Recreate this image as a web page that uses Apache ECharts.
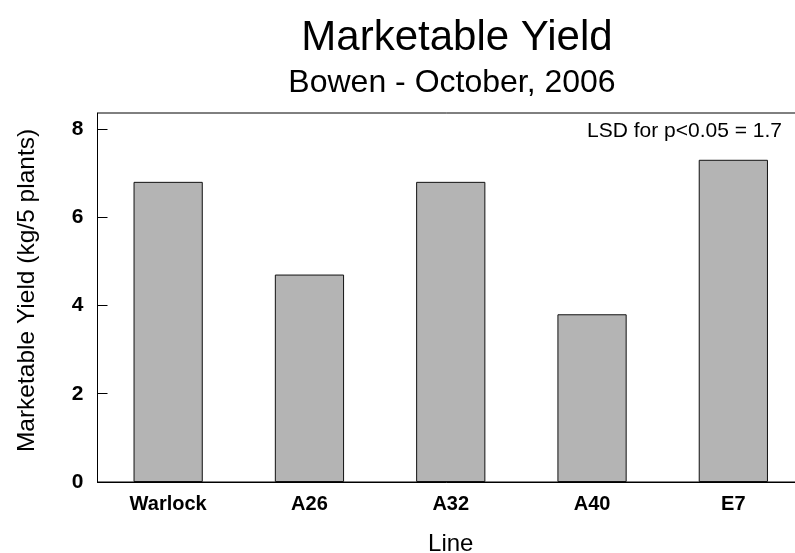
<!DOCTYPE html>
<html>
<head>
<meta charset="utf-8">
<script src="https://cdn.jsdelivr.net/npm/echarts@6/dist/echarts.min.js"></script>
<style>
  html, body { margin: 0; padding: 0; background: #fff; }
  #chart { width: 795px; height: 553px; }
</style>
</head>
<body>
<div id="chart"></div>
<script>
// Marketable yield per breeding line, Bowen trial, October 2006
const lines = ['Warlock', 'A26', 'A32', 'A40', 'E7'];
const yieldKg = [6.8, 4.7, 6.8, 3.8, 7.3];
const yTicks = [0, 2, 4, 6, 8];
const lsdNote = 'LSD for p<0.05 = 1.7';

const FONT = '"Liberation Sans", Arial, Helvetica, sans-serif';

const chart = echarts.init(document.getElementById('chart'), null, { renderer: 'canvas' });

chart.setOption({
  animation: false,
  backgroundColor: '#fff',
  title: [
    {
      text: 'Marketable Yield',
      left: 452, top: 12, textAlign: 'center',
      textStyle: { fontFamily: FONT, fontSize: 42, fontWeight: 'normal', color: '#000' }
    },
    {
      text: 'Bowen - October, 2006',
      left: 447, top: 62, textAlign: 'center',
      textStyle: { fontFamily: FONT, fontSize: 32, fontWeight: 'normal', color: '#000' }
    }
  ],
  grid: {
    left: 97.5, right: -9, top: 113, bottom: 71,
    outerBoundsMode: 'none',
    containLabel: false,
    show: true, borderColor: '#000', borderWidth: 1, backgroundColor: 'transparent'
  },
  xAxis: {
    type: 'category',
    data: lines,
    name: 'Line',
    nameLocation: 'middle',
    nameGap: 50,
    nameTextStyle: { fontFamily: FONT, fontSize: 24, color: '#000' },
    axisLine: { lineStyle: { color: '#000', width: 1 } },
    axisTick: { show: false },
    axisLabel: { fontFamily: FONT, fontSize: 20, fontWeight: 'bold', color: '#000', margin: 12 }
  },
  yAxis: {
    type: 'value',
    min: 0, max: 8.36,
    name: 'Marketable Yield (kg/5 plants)',
    nameLocation: 'middle',
    nameGap: 58,
    nameTextStyle: { fontFamily: FONT, fontSize: 24.5, color: '#000', padding: [0, 0, 0, 14] },
    splitLine: { show: false },
    axisLine: { show: true, lineStyle: { color: '#000', width: 1 } },
    axisTick: { show: true, inside: true, length: 10, customValues: yTicks, lineStyle: { color: '#000' } },
    axisLabel: { fontFamily: FONT, fontSize: 21, fontWeight: 'bold', color: '#000', margin: 14, customValues: yTicks }
  },
  graphic: [
    {
      type: 'text',
      right: 13, top: 121,
      style: { text: lsdNote, font: '21px ' + FONT, fill: '#000' }
    }
  ],
  series: [
    {
      type: 'bar',
      data: yieldKg,
      barWidth: '49%',
      itemStyle: { color: '#b4b4b4', borderColor: '#111', borderWidth: 1 }
    }
  ]
});
</script>
</body>
</html>
